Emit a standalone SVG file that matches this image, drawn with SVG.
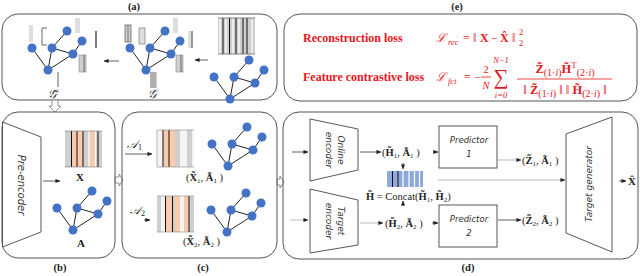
<svg xmlns="http://www.w3.org/2000/svg" xmlns:xlink="http://www.w3.org/1999/xlink" width="640" height="276" viewBox="0 0 640 276">
<style>
.panel{fill:none;stroke:#555;stroke-width:1}
.ttl{font-family:"Liberation Serif","DejaVu Serif",serif;font-weight:bold;font-size:10.5px;fill:#222;text-anchor:middle}
.m{font-family:"Liberation Serif","DejaVu Serif",serif;fill:#222}
.b{font-weight:bold}
.it{font-style:italic}
.red{fill:#e8161b}
.hw{font-family:"DejaVu Sans","Liberation Sans",sans-serif;font-style:italic;fill:#333;text-anchor:middle}
.conn{stroke:#333;stroke-width:0.8;fill:none;marker-end:url(#ah)}
.connG{stroke:#aaa;stroke-width:0.8;fill:none;marker-end:url(#ah)}
.shape{fill:#fff;stroke:#444;stroke-width:0.9}
.hollow{fill:#fff;stroke:#777;stroke-width:0.8}
.gy{fill:#cfcfcf}
.lg{fill:#dedede}
.or{fill:#f8cbad}
.bl{fill:#8eaadb}
.blk{stroke:#111;stroke-width:1}
.wht{stroke:#fff;stroke-width:1.2}
.dk{stroke:#666;stroke-width:1;fill:none}
</style>
<defs>
<marker id="ah" viewBox="0 0 6 6" refX="5.5" refY="3" markerWidth="5" markerHeight="5" orient="auto" markerUnits="userSpaceOnUse"><path d="M0,0.5 L6,3 L0,5.5 z" fill="#222"/></marker>
<g id="gr">
<path d="M19,-39 L4,-22 L25,-16 L34,-29 M-16,-22 L0,0 L4,-22 M0,0 L25,-16" stroke="#222" stroke-width="1" fill="none"/>
<g fill="#4472c4">
<circle cx="19" cy="-39" r="4.5"/><circle cx="34" cy="-29" r="4.5"/><circle cx="-16" cy="-22" r="4.5"/><circle cx="4" cy="-22" r="4.5"/><circle cx="25" cy="-16" r="4.5"/><circle cx="0" cy="0" r="4.5"/>
</g>
</g>
</defs>

<!-- panel titles -->
<text class="ttl" x="134" y="10">(a)</text>
<text class="ttl" x="457" y="10">(e)</text>
<text class="ttl" x="60" y="271">(b)</text>
<text class="ttl" x="203" y="271">(c)</text>
<text class="ttl" x="468" y="271">(d)</text>

<!-- Panel (a) -->
<g id="panel-a">
<rect class="panel" x="2" y="14" width="275" height="86" rx="16"/>
<g id="graph-a-left">
<rect class="lg" x="29" y="25" width="4" height="17"/>
<path class="dk" d="M47,28 L42,28 L42,45 L47,45"/>
<rect class="lg" x="75" y="18" width="5" height="15"/>
<line x1="96" y1="31" x2="96" y2="48" stroke="#555" stroke-width="1.5"/>
<rect class="gy" x="79" y="55" width="7" height="17" stroke="#888" stroke-width="0.6"/>
<line x1="84" y1="55" x2="84" y2="72" stroke="#666" stroke-width="1"/>
<line x1="58" y1="72" x2="58" y2="87" stroke="#777" stroke-width="1.2"/>
<use xlink:href="#gr" x="48" y="70"/>
<text class="m it" x="52" y="98" text-anchor="middle" font-size="12">𝒢̃</text>
</g>
<line class="conn" x1="119" y1="61" x2="104" y2="61"/>
<g id="graph-a-mid">
<rect class="gy" x="125" y="25" width="6" height="17" stroke="#666" stroke-width="0.8"/>
<line x1="128" y1="25" x2="128" y2="42" stroke="#666" stroke-width="0.8"/>
<rect class="lg" x="139" y="28" width="6" height="16" stroke="#888" stroke-width="0.8"/>
<rect class="lg" x="173" y="18" width="5" height="15"/>
<rect class="lg" x="188" y="31" width="5" height="17"/>
<line x1="192" y1="31" x2="192" y2="48" stroke="#555" stroke-width="1"/>
<rect class="gy" x="176" y="55" width="7" height="17" stroke="#888" stroke-width="0.6"/>
<line x1="181" y1="55" x2="181" y2="72" stroke="#666" stroke-width="1"/>
<rect class="gy" x="150" y="72" width="7" height="16"/>
<path d="M151,72 V88 M153,72 V88 M155,72 V88" stroke="#777" stroke-width="0.7"/>
<use xlink:href="#gr" x="146" y="70"/>
<text class="m it" x="152" y="98" text-anchor="middle" font-size="12">𝒢</text>
</g>
<line class="conn" x1="208" y1="60" x2="195" y2="60"/>
<g id="graph-a-right">
<rect class="gy" x="218" y="18" width="37" height="36"/>
<path class="wht" d="M220,18 V54 M226,18 V54 M233,18 V54 M239,18 V54 M252,18 V54"/>
<path class="blk" d="M223,18 V54 M229.5,18 V54 M236,18 V54 M243,18 V54 M247,18 V54"/>
<path d="M218,18 H255 M218,54 H255" stroke="#666" stroke-width="0.8"/>
<use xlink:href="#gr" x="230" y="99"/>
</g>
</g>

<!-- Panel (e) -->
<g id="panel-e">
<rect class="panel" x="284" y="14" width="353" height="87" rx="16"/>
<text class="m b red" x="303" y="42" font-size="12">Reconstruction loss</text>
<text class="m red it" x="436" y="42" font-size="12">ℒ</text>
<text class="m red it" x="448" y="45" font-size="8.5">rec</text>
<text class="m red" x="463" y="42" font-size="12">=</text>
<text class="m red" x="473" y="42" font-size="12">‖</text>
<text class="m red b" x="480" y="42" font-size="12">X</text>
<text class="m red" x="491" y="42" font-size="12">−</text>
<text class="m red b" x="500" y="42" font-size="12">X̂</text>
<text class="m red" x="512" y="42" font-size="12">‖</text>
<text class="m red" x="519" y="35" font-size="8.5">2</text>
<text class="m red" x="519" y="46" font-size="8.5">2</text>

<text class="m b red" x="303" y="81" font-size="12">Feature contrastive loss</text>
<text class="m red it" x="436" y="81" font-size="12">ℒ</text>
<text class="m red it" x="448" y="84" font-size="8.5">fct</text>
<text class="m red" x="464" y="81" font-size="12">=</text>
<text class="m red" x="474" y="81" font-size="12">−</text>
<text class="m red" x="486" y="73" font-size="10.5" text-anchor="middle">2</text>
<line x1="481" y1="77" x2="491" y2="77" stroke="#e8161b" stroke-width="0.8"/>
<text class="m red it" x="486" y="89" font-size="10.5" text-anchor="middle">N</text>
<text class="m red" x="501" y="84" font-size="21" text-anchor="middle">∑</text>
<text class="m red it" x="501" y="63" font-size="8.5" text-anchor="middle">N−1</text>
<text class="m red it" x="501" y="98" font-size="8.5" text-anchor="middle">i=0</text>
<line x1="517" y1="79" x2="612" y2="79" stroke="#e8161b" stroke-width="0.8"/>
<text class="m red" x="565" y="73" font-size="12.5" text-anchor="middle"><tspan class="b">Z̃</tspan><tspan font-size="10" dy="3">(1·<tspan class="it">i</tspan>)</tspan><tspan class="b" dy="-3">H̃</tspan><tspan font-size="9" dy="-5">T</tspan><tspan font-size="10" dy="8">(2·<tspan class="it">i</tspan>)</tspan></text>
<text class="m red" x="565" y="94" font-size="12.5" text-anchor="middle">‖ <tspan class="b">Z̃</tspan><tspan font-size="10" dy="3">(1·<tspan class="it">i</tspan>)</tspan><tspan dy="-3"> ‖ ‖ </tspan><tspan class="b">H̃</tspan><tspan font-size="10" dy="3">(2·<tspan class="it">i</tspan>)</tspan><tspan dy="-3"> ‖</tspan></text>
</g>

<!-- hollow arrows between panels -->
<g id="block-arrows">
<path class="hollow" d="M52,100 H58 V106 H61 L55,112 L49,106 H52 Z"/>
<path class="hollow" d="M115,177 H119 V174 L123,180 L119,186 V183 H115 Z"/>
<path class="hollow" d="M277,179 H280 V176 L284,182 L280,188 V185 H277 Z"/>
</g>

<!-- Panel (b) -->
<g id="panel-b">
<rect class="panel" x="2" y="112" width="113" height="146" rx="16"/>
<g id="pre-encoder">
<path class="shape" d="M2.5,122 L41,137 L41,232 L2.5,247 Z"/>
<text class="hw" transform="translate(18,185) rotate(90)" font-size="10">Pre-encoder</text>
</g>
<line class="conn" x1="43" y1="181" x2="60" y2="181"/>
<g id="matrix-X">
<rect class="gy" x="65" y="131" width="37" height="36"/>
<rect class="or" x="71" y="131" width="12" height="36"/>
<rect class="or" x="89" y="131" width="6" height="36"/>
<path class="wht" d="M89,131 V167 M95.5,131 V167"/>
<path class="blk" d="M71.5,131 V167 M77,131 V167 M83,131 V167 M98,131 V167"/>
<path d="M65,131 H102 M65,167 H102" stroke="#777" stroke-width="0.6"/>
<text class="m b" x="80" y="181" font-size="11" text-anchor="middle">X</text>
</g>
<use xlink:href="#gr" x="73" y="230"/>
<text class="m b" x="81" y="247" font-size="11" text-anchor="middle">A</text>
</g>

<!-- Panel (c) -->
<g id="panel-c">
<rect class="panel" x="122" y="112" width="155" height="146" rx="16"/>
<text class="m it" x="127" y="148" font-size="11">𝒜</text>
<text class="m" x="138" y="150" font-size="8">1</text>
<line class="conn" x1="125" y1="154" x2="152" y2="154"/>
<g id="matrix-X1">
<rect x="157" y="130" width="37" height="37" fill="#f4f4f4"/>
<rect class="or" x="163" y="130" width="12" height="37"/>
<rect class="gy" x="175" y="130" width="5" height="37"/>
<rect class="gy" x="187" y="130" width="5" height="37"/>
<path class="blk" d="M163,130 V167 M169,130 V167"/>
<path d="M157,130 V167 M157,130 H194 M157,167 H194" stroke="#888" stroke-width="0.6" fill="none"/>
</g>
<use xlink:href="#gr" x="228" y="166"/>
<text class="m" x="186" y="181" font-size="10.5">(<tspan class="b">X̃</tspan><tspan font-size="7" dy="2">1</tspan><tspan dy="-2">, </tspan><tspan class="b">Ã</tspan><tspan font-size="7" dy="2">1</tspan><tspan dy="-2"> )</tspan></text>

<text class="m it" x="130" y="214" font-size="11">𝒜</text>
<text class="m" x="141" y="216" font-size="8">2</text>
<line class="conn" x1="144" y1="220" x2="150" y2="220"/>
<g id="matrix-X2">
<rect class="gy" x="157" y="196" width="37" height="36"/>
<rect x="161" y="196" width="4" height="36" fill="#f4f4f4"/>
<rect class="or" x="166" y="196" width="6" height="36"/>
<rect class="or" x="175" y="196" width="5" height="36"/>
<rect x="180" y="196" width="4" height="36" fill="#f4f4f4"/>
<rect class="or" x="184" y="196" width="5" height="36"/>
<path class="blk" d="M165.5,196 V232 M172.5,196 V232 M189,196 V232"/>
<path d="M157,196 H194 M157,232 H194" stroke="#888" stroke-width="0.6"/>
</g>
<use xlink:href="#gr" x="227" y="232"/>
<text class="m" x="183" y="245" font-size="10.5">(<tspan class="b">X̃</tspan><tspan font-size="7" dy="2">2</tspan><tspan dy="-2">, </tspan><tspan class="b">Ã</tspan><tspan font-size="7" dy="2">2</tspan><tspan dy="-2"> )</tspan></text>
</g>

<!-- Panel (d) -->
<g id="panel-d">
<rect class="panel" x="283" y="112" width="355" height="147" rx="16"/>
<g id="online-encoder">
<path class="shape" d="M310,119 L358,129 L358,170 L310,181 Z"/>
<text class="hw" transform="translate(338,150) rotate(90)" font-size="9">Online</text>
<text class="hw" transform="translate(326,150) rotate(90)" font-size="9">encoder</text>
</g>
<g id="target-encoder">
<path class="shape" d="M310,189 L358,200 L358,245 L310,253 Z"/>
<text class="hw" transform="translate(338,221) rotate(90)" font-size="9">Target</text>
<text class="hw" transform="translate(326,221) rotate(90)" font-size="9">encoder</text>
</g>
<g id="predictor-1">
<rect class="shape" x="439" y="126" width="58" height="42"/>
<text class="hw" x="469" y="143" font-size="8.5">Predictor</text>
<text class="hw" x="469" y="157" font-size="8.5">1</text>
</g>
<g id="predictor-2">
<rect class="shape" x="439" y="205" width="58" height="42"/>
<text class="hw" x="469" y="222" font-size="8.5">Predictor</text>
<text class="hw" x="469" y="236" font-size="8.5">2</text>
</g>
<g id="target-generator">
<path class="shape" d="M566,134 L612,117 L612,252 L566,233 Z"/>
<text class="hw" transform="translate(592,184) rotate(-90)" font-size="9">Target generator</text>
</g>
<g id="concat">
<rect class="bl" x="387" y="171" width="36" height="16"/>
<path class="blk" d="M392.5,171 V187 M398,171 V187"/>
<path class="wht" d="M403,171 V187 M409,171 V187 M414.5,171 V187 M419.5,171 V187"/>
<text class="m" x="366" y="200" font-size="10.5"><tspan class="b">H̃</tspan> = Concat(<tspan class="b">H̃</tspan><tspan font-size="7" dy="2">1</tspan><tspan dy="-2">, </tspan><tspan class="b">H̃</tspan><tspan font-size="7" dy="2">2</tspan><tspan dy="-2">)</tspan></text>
</g>
<text class="m" x="382" y="156" font-size="10.5">(<tspan class="b">H̃</tspan><tspan font-size="7" dy="2">1</tspan><tspan dy="-2">, </tspan><tspan class="b">Ã</tspan><tspan font-size="7" dy="2">1</tspan><tspan dy="-2"> )</tspan></text>
<text class="m" x="385" y="227" font-size="10.5">(<tspan class="b">H̃</tspan><tspan font-size="7" dy="2">2</tspan><tspan dy="-2">, </tspan><tspan class="b">Ã</tspan><tspan font-size="7" dy="2">2</tspan><tspan dy="-2"> )</tspan></text>
<text class="m" x="522" y="164" font-size="10.5">(<tspan class="b">Z̃</tspan><tspan font-size="7" dy="2">1</tspan><tspan dy="-2">, </tspan><tspan class="b">Ã</tspan><tspan font-size="7" dy="2">1</tspan><tspan dy="-2"> )</tspan></text>
<text class="m" x="522" y="224" font-size="10.5">(<tspan class="b">Z̃</tspan><tspan font-size="7" dy="2">2</tspan><tspan dy="-2">, </tspan><tspan class="b">Ã</tspan><tspan font-size="7" dy="2">2</tspan><tspan dy="-2"> )</tspan></text>
<text class="m b" x="628" y="185" font-size="11">X̂</text>
</g>

<!-- connectors -->
<g id="connectors">
<line class="conn" x1="292" y1="152" x2="308" y2="152"/>
<line class="connG" x1="290" y1="220" x2="308" y2="220"/>
<line class="conn" x1="360" y1="152" x2="381" y2="152"/>
<line class="connG" x1="360" y1="223" x2="383" y2="223"/>
<line class="conn" x1="433" y1="152" x2="438" y2="152"/>
<line class="conn" x1="432" y1="223" x2="438" y2="223"/>
<line class="connG" x1="498" y1="160" x2="521" y2="160"/>
<line class="conn" x1="498" y1="220" x2="521" y2="220"/>
<line class="connG" x1="438" y1="180" x2="565" y2="180"/>
<line class="conn" x1="619" y1="181" x2="626" y2="181"/>
<line class="conn" x1="403" y1="163" x2="403" y2="169"/>
<line class="conn" x1="403" y1="206" x2="403" y2="201"/>
</g>
</svg>
